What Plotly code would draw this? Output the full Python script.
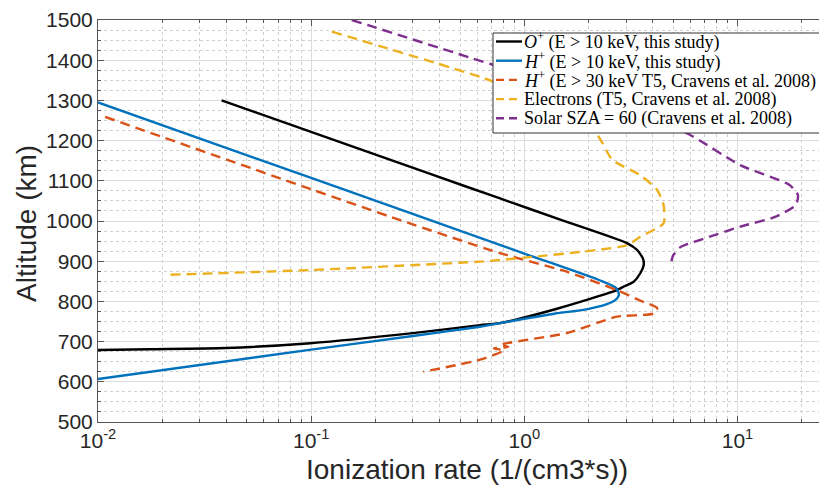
import plotly.graph_objects as go

# ---- data ----
o_plus_rate = [0.038, 0.12, 0.362, 0.77, 1.52, 3.03, 3.38, 3.6, 3.63, 3.5, 3.26, 2.93, 2.72, 1.45, 0.77, 0.62, 0.3, 0.099, 0.04, 0.0175, 0.01]
o_plus_alt = [1300, 1207, 1117, 1056, 1001, 945, 928, 907, 890, 870, 849, 837, 828, 783, 746, 741, 721, 696, 684, 681, 679]

h_plus_rate = [0.01, 0.1, 1.0, 2.27, 2.7, 2.78, 2.67, 2.44, 1.9, 1.4, 0.77, 0.62, 0.3, 0.1, 0.01]
h_plus_alt = [1295, 1107, 919, 852, 833, 816, 803, 793, 779, 770, 746, 737, 714, 680, 607]

h_crav_rate = [0.0108, 0.1, 0.262, 0.77, 1.58, 2.72, 3.5, 4.2, 4.05, 2.72, 1.58, 0.77, 0.84, 0.72, 0.8, 0.62, 0.336]
h_crav_alt = [1259, 1079, 1002, 920, 874, 828, 802, 783, 770, 762, 721, 692, 687, 683, 678, 655, 625]

elec_rate = [0.125, 0.718, 1.6, 2.2, 2.59, 3.5, 4.2, 4.5, 4.5, 3.5, 3.03, 1.9, 1.1, 0.77, 0.62, 0.099, 0.0207]
elec_alt = [1471, 1347, 1270, 1214, 1152, 1114, 1077, 1040, 994, 961, 940, 924, 911, 903, 899, 878, 866]

solar_rate = [0.155, 0.718, 2.5, 6.0, 10.3, 17.5, 19.2, 18.8, 15.0, 10.3, 6.7, 5.4, 5.0, 4.9]
solar_alt = [1500, 1388, 1300, 1214, 1139, 1090, 1065, 1040, 1010, 986, 953, 935, 915, 900]

x_tickvals = [0.01, 0.1, 1, 10]
x_ticktext = ["10<sup>-2</sup>", "10<sup>-1</sup>", "10<sup>0</sup>", "10<sup>1</sup>"]
y_tickvals = [500, 600, 700, 800, 900, 1000, 1100, 1200, 1300, 1400, 1500]

series_names = [
    "<i>O</i><sup>+</sup> (E > 10 keV, this study)",
    "<i>H</i><sup>+</sup> (E > 10 keV, this study)",
    "<i>H</i><sup>+</sup> (E > 30 keV T5, Cravens et al. 2008)",
    "Electrons (T5, Cravens et al. 2008)",
    "Solar SZA = 60 (Cravens et al. 2008)",
]

colors = ["#000000", "#0072BD", "#D95319", "#EDB120", "#7E2F8E"]
dashes = ["solid", "solid", "10px,6px", "10px,6px", "10px,6px"]

xs = [o_plus_rate, h_plus_rate, h_crav_rate, elec_rate, solar_rate]
ys = [o_plus_alt, h_plus_alt, h_crav_alt, elec_alt, solar_alt]

fig = go.Figure()
for x, y, n, c, d in zip(xs, ys, series_names, colors, dashes):
    fig.add_trace(go.Scatter(x=x, y=y, mode="lines", name=n, showlegend=False,
                             line=dict(color=c, width=2.4, dash=d, shape="spline", smoothing=0.6)))

minor_x = [m * 10.0 ** e for e in (-2, -1, 0, 1) for m in range(2, 10)]

# page body has an 8px default margin -> figure is 8px smaller, plot area in window px:
PX0, PW, PY0, PH = 98.0, 729.0, 20.0, 402.0
def px(xpix):
    return (xpix - PX0) / PW
def py(ypix):
    return 1 - (ypix - PY0) / PH

axis_color = "#555555"
tick_font = dict(family="Liberation Sans, Arial, sans-serif", size=21, color="#262626")
title_font = dict(family="Liberation Sans, Arial, sans-serif", size=28, color="#262626")
legend_font = dict(family="Liberation Serif, Times New Roman, serif", size=18, color="#000000")

# manual legend (box, line samples, labels)
shapes = [dict(type="rect", xref="paper", yref="paper", x0=px(493), x1=px(823), y0=py(133), y1=py(33),
               fillcolor="white", line=dict(color="#333333", width=1), layer="above")]
annotations = []
for i, (n, c, d) in enumerate(zip(series_names, colors, dashes)):
    yrow = 41.5 + 19.2 * i
    shapes.append(dict(type="line", xref="paper", yref="paper", x0=px(496), x1=px(522),
                       y0=py(yrow), y1=py(yrow), layer="above",
                       line=dict(color=c, width=2.4, dash="solid" if d == "solid" else "8px,5px")))
    annotations.append(dict(text=n, xref="paper", yref="paper", x=px(522), y=py(yrow),
                            xanchor="left", yanchor="middle", showarrow=False, font=legend_font))

annotations += [
    dict(text="Altitude (km)", xref="paper", yref="paper", x=px(26), y=py(224),
         textangle=-90, showarrow=False, xanchor="center", yanchor="middle", font=title_font),
    dict(text="Ionization rate (1/(cm3*s))", xref="paper", yref="paper", x=px(467), y=py(469),
         showarrow=False, xanchor="center", yanchor="middle", font=title_font),
]

fig.update_layout(
    width=819, height=479,
    margin=dict(l=90, r=0, t=12, b=65),
    paper_bgcolor="white", plot_bgcolor="white",
    showlegend=False,
    xaxis=dict(type="log", range=[-2, 1.42],
               tickmode="array", tickvals=x_tickvals, ticktext=x_ticktext,
               showline=True, linecolor=axis_color, linewidth=1, mirror="ticks",
               ticks="inside", ticklen=6, tickcolor=axis_color,
               showgrid=True, gridcolor="#dcdcdc", gridwidth=1,
               tickfont=tick_font, zeroline=False,
               minor=dict(tickmode="array", tickvals=minor_x, ticks="inside", ticklen=3,
                          tickcolor=axis_color, showgrid=True, gridcolor="#d0d0d0",
                          griddash="dot", gridwidth=1)),
    yaxis=dict(range=[500, 1500], tickmode="array", tickvals=y_tickvals,
               showline=True, linecolor=axis_color, linewidth=1, mirror=False,
               ticks="inside", ticklen=6, tickcolor=axis_color,
               showgrid=True, gridcolor="#dcdcdc", gridwidth=1,
               tickfont=tick_font, zeroline=False,
               minor=dict(dtick=25, ticks="inside", ticklen=3, tickcolor=axis_color,
                          showgrid=True, gridcolor="#d0d0d0", griddash="dot", gridwidth=1)),
    shapes=shapes,
    annotations=annotations,
)

fig.write_html("out.html")
